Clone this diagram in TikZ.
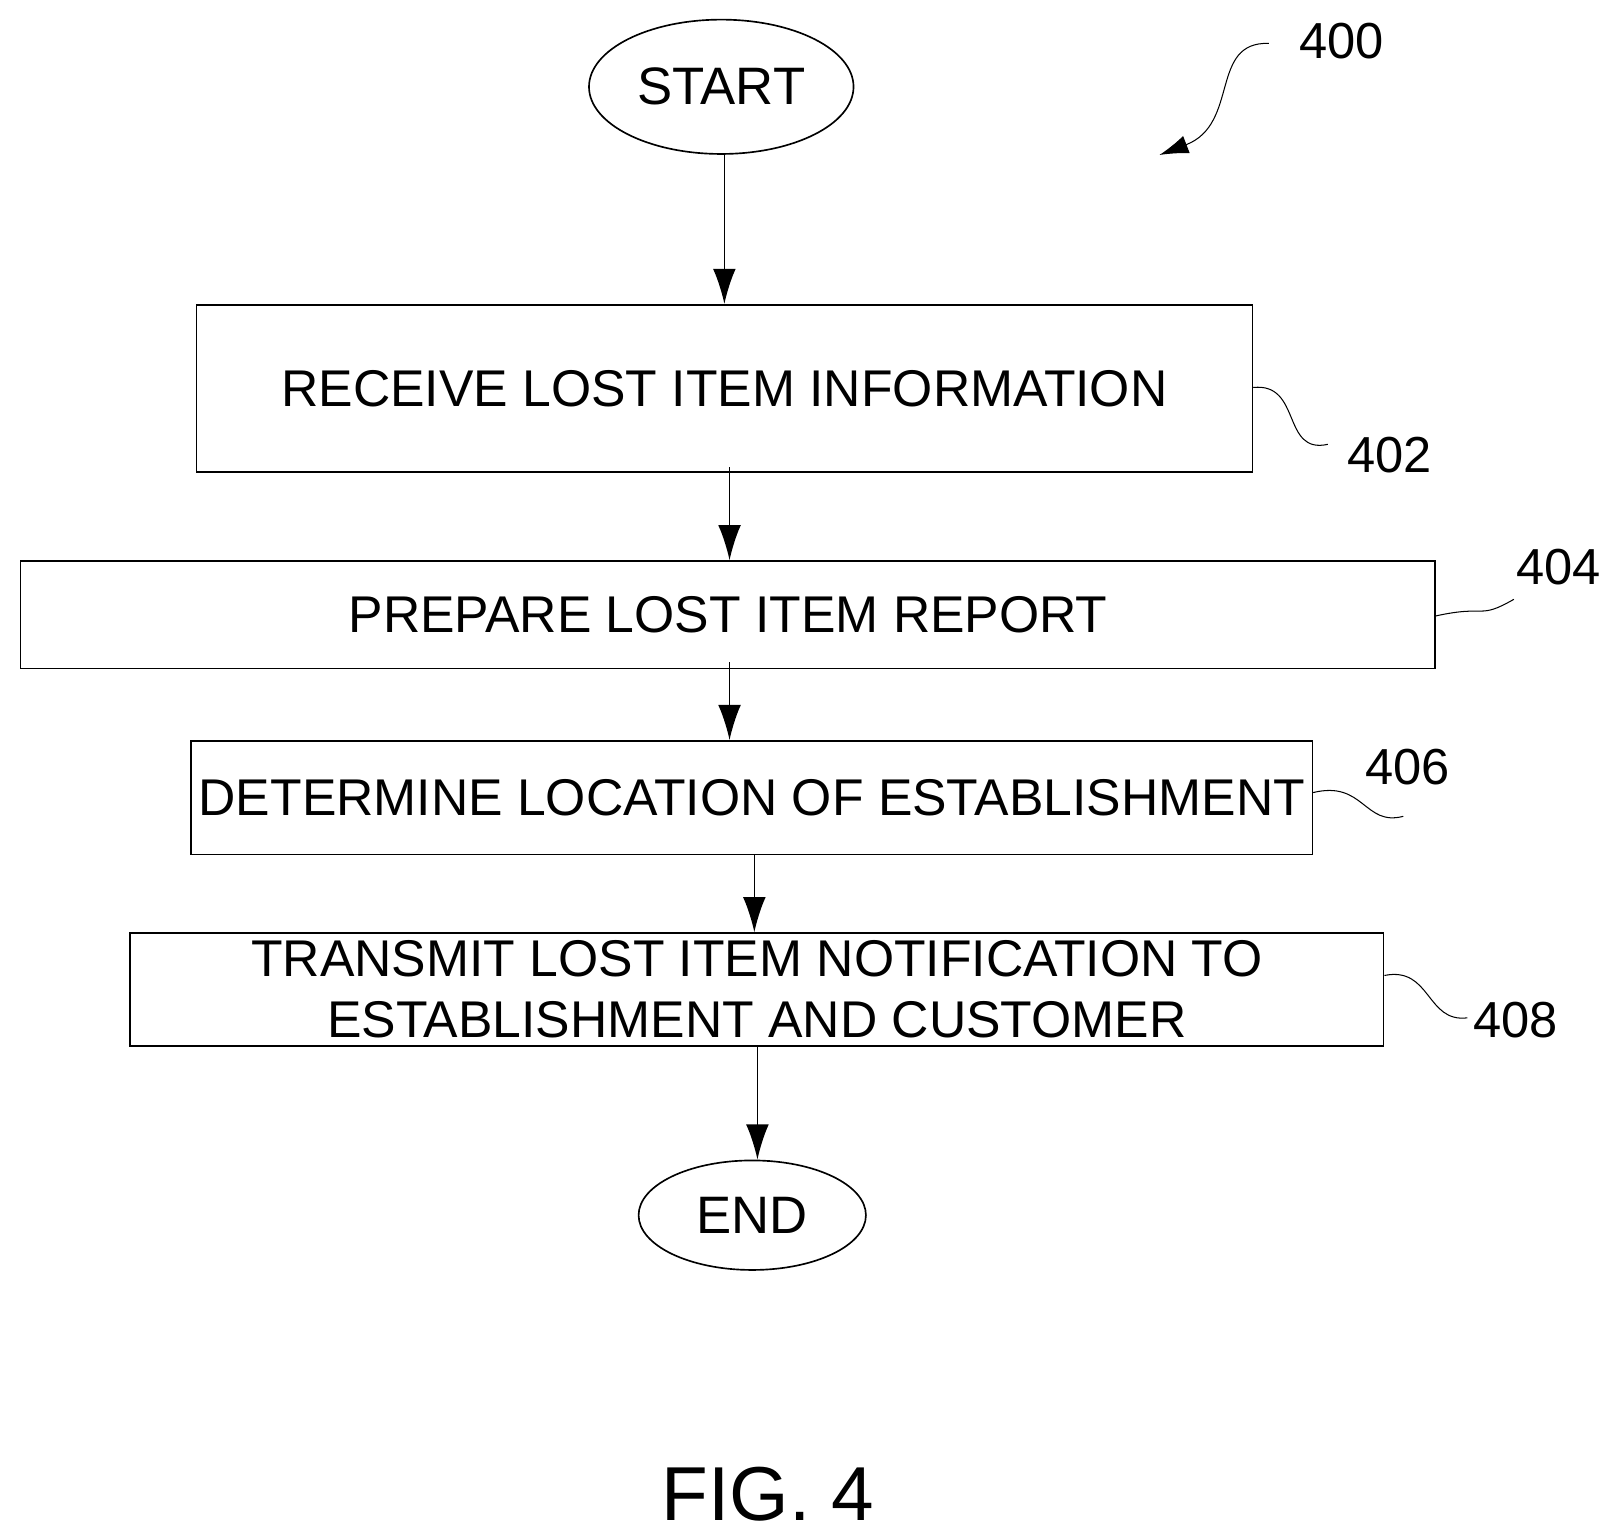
\documentclass[tikz,border=0pt]{standalone}
\usepackage{fontspec}
\setmainfont{Liberation Sans}
\usetikzlibrary{arrows.meta,shapes.geometric}
\begin{document}
\begin{tikzpicture}[x=0.5pt,y=-0.5pt,
  box/.style={draw,line width=0.8pt,rectangle,inner sep=0pt,font=\fontsize{25}{30}\selectfont,align=center},
  oval/.style={draw,line width=0.8pt,ellipse,inner sep=0pt,font=\fontsize{25.5}{30}\selectfont},
  arr/.style={-{Latex[length=17pt,width=11pt]},line width=0.8pt},
  sq/.style={line width=0.5pt},
  lab/.style={font=\fontsize{24.5}{28}\selectfont}]
\useasboundingbox (0,0) rectangle (1560,1486);
\node[oval,minimum width=128pt,minimum height=65pt] (s) at (698,84) {START};
\node[box,minimum width=511pt,minimum height=81pt] (b1) at (701,376) {RECEIVE LOST ITEM INFORMATION};
\node[box,minimum width=684.5pt,minimum height=52pt] (b2) at (704.5,595) {PREPARE LOST ITEM REPORT};
\node[box,minimum width=542.5pt,minimum height=55pt] (b3) at (727.5,772) {DETERMINE LOCATION OF ESTABLISHMENT};
\node[box,minimum width=606.5pt,minimum height=54.5pt,font=\fontsize{25}{29.5}\selectfont] (b4) at (732.5,957.5) {TRANSMIT LOST ITEM NOTIFICATION TO\\ESTABLISHMENT AND CUSTOMER};
\node[oval,minimum width=110pt,minimum height=53pt] (e) at (728,1176) {END};
\draw[arr] (s.south -| 701,0) -- (b1.north -| 701,0);
\draw[arr] (706,452) -- (b2.north -| 706,0);
\draw[arr] (706,641) -- (b3.north -| 706,0);
\draw[arr] (b3.south -| 730,0) -- (b4.north -| 730,0);
\draw[arr] (b4.south -| 733,0) -- (e.north -| 733,0);
\node[lab] (l400) at (1298,40) {400};
\node[lab] (l402) at (1345,440) {402};
\node[lab] (l404) at (1508,549) {404};
\node[lab] (l406) at (1362,742) {406};
\node[lab] (l408) at (1467,987) {408};
\coordinate (t400) at (1122,150);
\draw[sq,-{Latex[length=14pt,width=9pt]}] (1228,42) .. controls (1170,40) and (1200,120) .. (t400);
\draw[sq] (b1.east |- 0,375) .. controls (1260,370) and (1240,440) .. (1285,430);
\draw[sq] (b2.east |- 0,596) .. controls (1440,585) and (1430,600) .. (1465,580);
\draw[sq] (b3.east |- 0,767) .. controls (1320,755) and (1320,800) .. (1358,790);
\draw[sq] (b4.east |- 0,944) .. controls (1385,935) and (1380,990) .. (1420,985);
\node[font=\fontsize{37}{44}\selectfont] (fig) at (743,1446) {FIG. 4};
\end{tikzpicture}
\end{document}
